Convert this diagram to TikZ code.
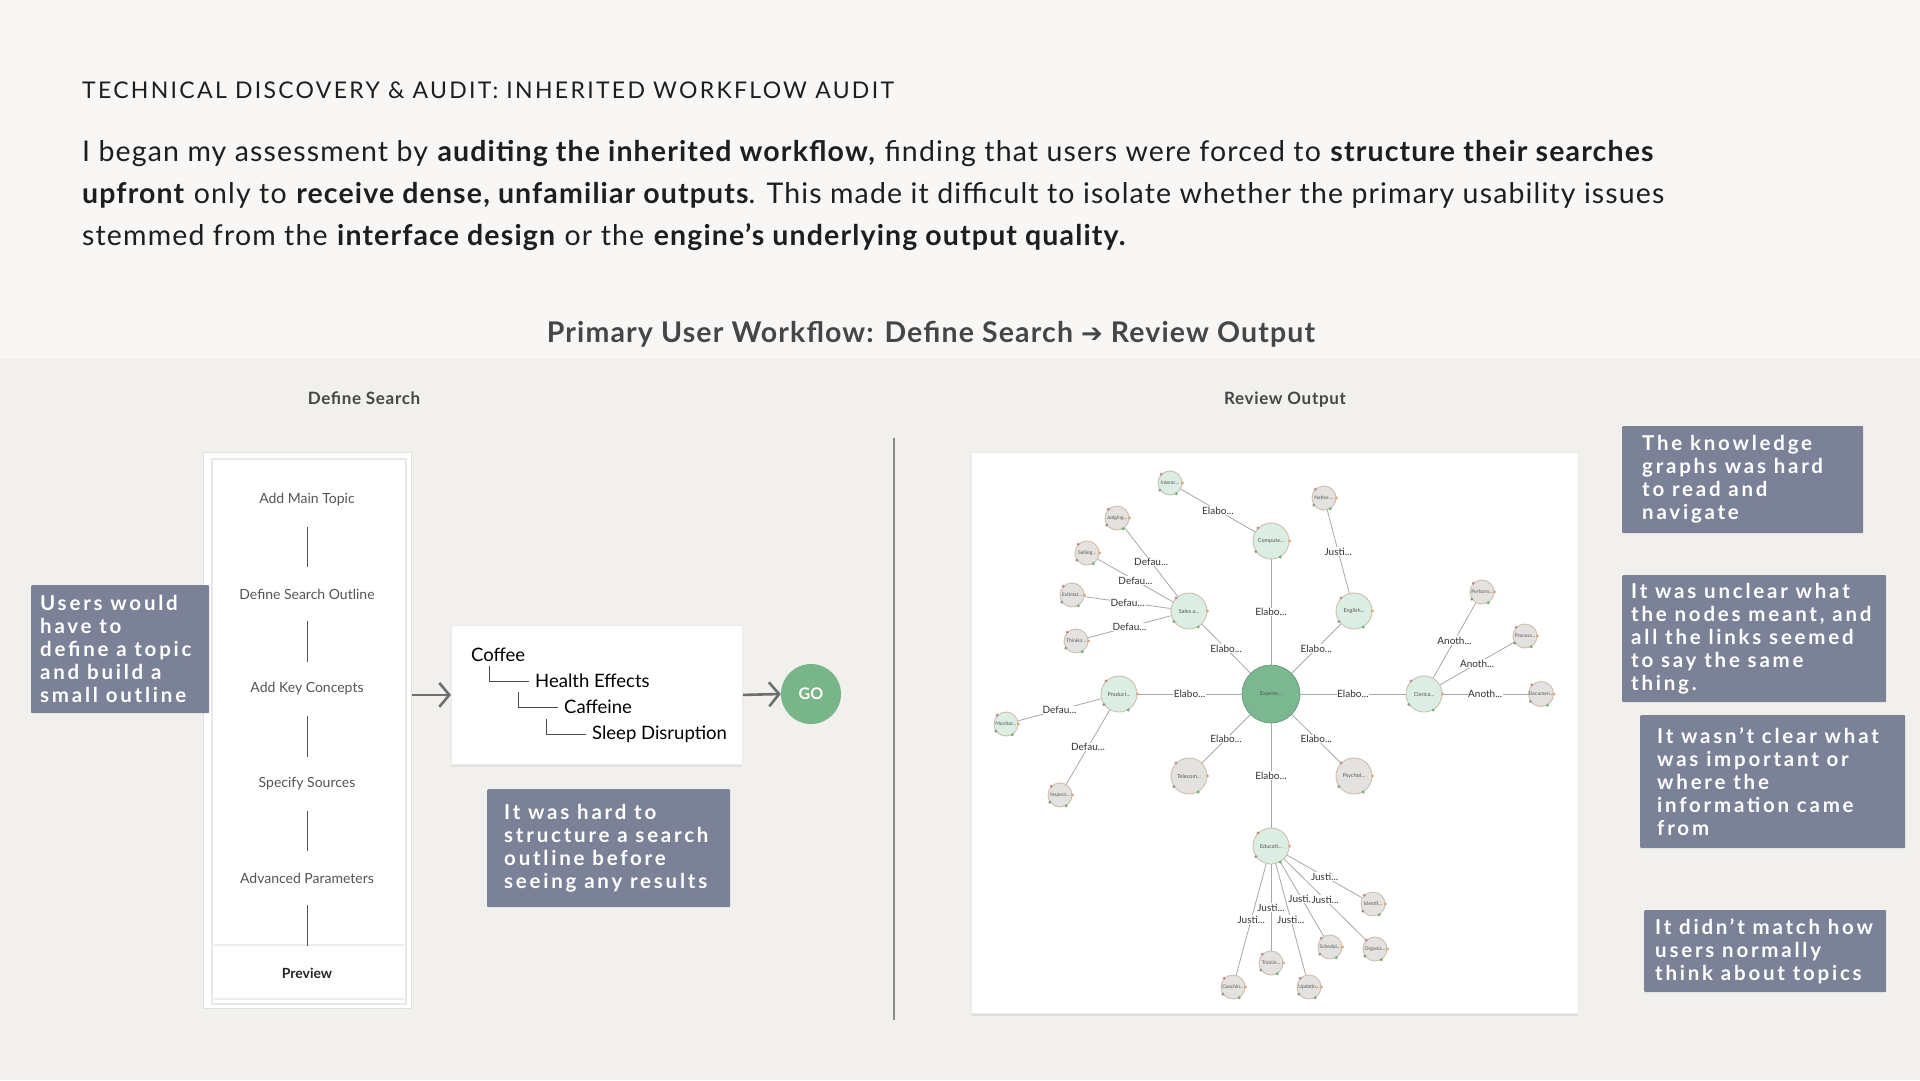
\documentclass[tikz,border=0pt]{standalone}
\usepackage{fontspec}
\setmainfont{Lato}
\newfontfamily\dejavu{DejaVu Sans}
\newfontfamily\callfont[LetterSpace=13.5]{Lato}
\newfontfamily\titlefont[LetterSpace=10.0]{Lato}
\newfontfamily\parafont[LetterSpace=4.0]{Lato}
\usetikzlibrary{arrows.meta,shadows,calc}
\definecolor{bgtop}{HTML}{F8F7F5}
\definecolor{bgbot}{HTML}{F1F0ED}
\definecolor{callout}{HTML}{7B8196}
\definecolor{gogreen}{HTML}{78B68A}
\definecolor{ctrgreen}{HTML}{7BB791}
\definecolor{lgreen}{HTML}{DCEDE3}
\definecolor{lgray}{HTML}{E4E2E0}
\definecolor{nodeborder}{HTML}{CDBFAE}
\definecolor{edgegray}{HTML}{A8A8A8}
\definecolor{textdark}{HTML}{1E1E1E}
\definecolor{subgray}{HTML}{464646}
\definecolor{stepgray}{HTML}{555555}
\definecolor{arrowgray}{HTML}{6E6E6E}
\definecolor{dotA}{HTML}{C98C8C}
\definecolor{dotB}{HTML}{E3A774}
\definecolor{dotC}{HTML}{8E9C8E}
\definecolor{dotD}{HTML}{72B07C}
\newcommand\labE{Elabo...}
\newcommand\labD{Defau...}
\newcommand\labJ{Justi...}
\newcommand\labA{Anoth...}
\begin{document}
\begin{tikzpicture}[x=1pt,y=-1pt,
  para/.style={anchor=base west, inner sep=0, font=\parafont\fontsize{28.5pt}{33pt}\selectfont, text=textdark},
  seclabel/.style={anchor=base, inner sep=0, font=\parafont\bfseries\fontsize{17pt}{19pt}\selectfont, text=subgray},
  steptext/.style={inner sep=0, font=\fontsize{14pt}{16pt}\selectfont, text=stepgray},
  stepline/.style={draw=stepgray, line width=1pt, shorten <=27pt, shorten >=27pt},
  cbox/.style={anchor=north west, fill=callout, draw=none, rounded corners=1pt, inner sep=0},
  ctext/.style={anchor=west, inner sep=0, align=left, text=white, font=\callfont\bfseries\fontsize{20.5pt}{23pt}\selectfont},
  treetext/.style={anchor=west, inner sep=0, font=\fontsize{18.5pt}{20pt}\selectfont, text=black},
  treeline/.style={draw=black!70, line width=1pt},
  flowarrow/.style={draw=arrowgray, line width=2.6pt, -{Straight Barb[length=10pt,width=24pt,line width=2.6pt]}},
  gbig/.style={circle, draw=nodeborder, line width=0.9pt, minimum size=36pt, inner sep=0, font=\fontsize{5.5pt}{6pt}\selectfont, text=stepgray},
  gsmall/.style={circle, draw=nodeborder, line width=0.9pt, minimum size=24pt, inner sep=0, font=\fontsize{5pt}{6pt}\selectfont, text=stepgray},
  gf/.style={fill=lgreen},
  yf/.style={fill=lgray},
  gedge/.style={draw=edgegray, line width=0.8pt},
  elabel/.style={fill=white, inner sep=0.6pt, font=\fontsize{10pt}{11pt}\selectfont, text=black!80}
]
\useasboundingbox (0,0) rectangle (1920,1080);
\fill[bgtop] (0,0) rectangle (1920,359);
\fill[bgbot] (0,359) rectangle (1920,1080);

% header
\node[anchor=base west, inner sep=0, font=\titlefont\fontsize{23pt}{25pt}\selectfont, text=textdark] (title) at (82,98) {TECHNICAL DISCOVERY \& AUDIT: INHERITED WORKFLOW AUDIT};
\node[para] (p1) at (82,161) {I began my assessment by \textbf{auditing the inherited workflow,} finding that users were forced to \textbf{structure their searches}};
\node[para] (p2) at (82,203) {\textbf{upfront} only to \textbf{receive dense, unfamiliar outputs}. This made it difficult to isolate whether the primary usability issues};
\node[para] (p3) at (82,245) {stemmed from the \textbf{interface design} or the \textbf{engine’s underlying output quality.}};
\node[anchor=base, inner sep=0, font=\parafont\bfseries\fontsize{28.5pt}{32pt}\selectfont, text=subgray] (sub) at (931,342) {Primary User Workflow: Define Search {\dejavu\fontsize{26pt}{26pt}\selectfont ➔} Review Output};

\node[seclabel] (dslabel) at (364,404) {Define Search};
\node[seclabel] (rolabel) at (1285,404) {Review Output};

% divider
\coordinate (dtop) at (894,438);
\coordinate (dbot) at (894,1020);
\draw[draw=arrowgray!80, line width=1.3pt] (dtop) -- (dbot);

% left panel
\node[anchor=north west, fill=white, draw=black!12, line width=1pt, minimum width=208pt, minimum height=556pt, inner sep=0] (panel) at (203,452) {};
\node[anchor=north west, fill=white, draw=black!9, line width=1.5pt, minimum width=194pt, minimum height=545pt, inner sep=0] (inner) at (211,458) {};
\coordinate (pvl) at (212,945);
\coordinate (pvr) at (404,945);
\draw[draw=black!7, line width=2.5pt] (pvl) -- (pvr);
\coordinate (pbl) at (212,999);
\coordinate (pbr) at (404,999);
\draw[draw=black!7, line width=2pt] (pbl) -- (pbr);
\node[steptext] (s1) at (307,500) {Add Main Topic};
\node[steptext] (s2) at (307,594) {Define Search Outline};
\node[steptext] (s3) at (307,689) {Add Key Concepts};
\node[steptext] (s4) at (307,784) {Specify Sources};
\node[steptext] (s5) at (307,878) {Advanced Parameters};
\node[steptext, font=\bfseries\fontsize{14pt}{16pt}\selectfont, text=black!85] (s6) at (307,973) {Preview};
\draw[stepline] (s1.center) -- (s2.center);
\draw[stepline] (s2.center) -- (s3.center);
\draw[stepline] (s3.center) -- (s4.center);
\draw[stepline] (s4.center) -- (s5.center);
\draw[stepline] (s5.center) -- (s6.center);

% callout left
\node[cbox, minimum width=178pt, minimum height=128pt] (c1) at (31,585) {};
\node[ctext] (c1t) at ([xshift=9pt]c1.west) {Users would\\have to\\define a topic\\and build a\\small outline};

% outline box
\node[anchor=north west, fill=white, draw=black!8, line width=0.8pt, minimum width=291pt, minimum height=139pt, inner sep=0, drop shadow={opacity=0.12, shadow xshift=0pt, shadow yshift=-3pt}] (ob) at (451,625) {};
\node[treetext] (t0) at (471,655) {Coffee};
\node[treetext] (t1) at (535,681) {Health Effects};
\node[treetext] (t2) at (564,707) {Caffeine};
\node[treetext] (t3) at (592,734) {Sleep Disruption};
\coordinate (v1) at (489,666);
\coordinate (v2) at (518,692);
\coordinate (v3) at (546,719);
\draw[treeline] (v1) |- ([xshift=-6pt]t1.west);
\draw[treeline] (v2) |- ([xshift=-6pt]t2.west);
\draw[treeline] (v3) |- ([xshift=-6pt]t3.west);

\node[circle, fill=gogreen, minimum size=60pt, inner sep=0, text=white, font=\bfseries\fontsize{16pt}{18pt}\selectfont] (go) at (811,694) {GO};
\draw[flowarrow] (panel.east |- ob.west) -- (ob.west);
\draw[flowarrow] (ob.east) -- (go.west);

\node[cbox, minimum width=243pt, minimum height=118pt] (c2) at (487,789) {};
\node[ctext] (c2t) at ([xshift=17pt]c2.west) {It was hard to\\structure a search\\outline before\\seeing any results};

% graph panel
\node[anchor=north west, fill=white, draw=black!8, line width=0.8pt, minimum width=607pt, minimum height=561pt, inner sep=0, drop shadow={opacity=0.14, shadow xshift=0pt, shadow yshift=-3pt}] (gp) at (971,452) {};

\node[circle, fill=ctrgreen, draw=ctrgreen!80!black, line width=0.6pt, minimum size=58pt, inner sep=0, font=\fontsize{5.5pt}{6pt}\selectfont, text=stepgray] (exp) at (1271,694) {Experie...};
\node[gbig, gf] (comp) at (1271,541) {Compute...};
\node[gsmall, gf] (intr) at (1170,483) {Interac...};
\node[gsmall, yf] (nat) at (1324,498) {Native ...};
\node[gbig, gf] (eng) at (1354,611) {English...};
\node[gbig, gf] (sal) at (1189,611) {Sales a...};
\node[gsmall, yf] (jud) at (1117,518) {Judging...};
\node[gsmall, yf] (sel) at (1087,553) {Selling...};
\node[gsmall, yf] (est) at (1072,595) {Estimat...};
\node[gsmall, yf] (thi) at (1076,641) {Thinkin...};
\node[gbig, gf] (pro) at (1119,694) {Product...};
\node[gsmall, gf] (mon) at (1006,724) {Monitor...};
\node[gsmall, yf] (ins) at (1060,795) {Inspect...};
\node[gbig, yf] (tel) at (1189,776) {Telecom...};
\node[gbig, yf] (psy) at (1354,776) {Psychol...};
\node[gbig, gf] (cle) at (1424,694) {Clerica...};
\node[gsmall, yf] (per) at (1482,592) {Perform...};
\node[gsmall, yf] (prc) at (1525,636) {Process...};
\node[gsmall, yf] (doc) at (1541,694) {Documen...};
\node[gbig, gf] (edu) at (1271,846) {Educati...};
\node[gsmall, yf] (ide) at (1373,904) {Identif...};
\node[gsmall, yf] (org) at (1375,949) {Organiz...};
\node[gsmall, yf] (sch) at (1330,947) {Schedul...};
\node[gsmall, yf] (upd) at (1309,987) {Updatin...};
\node[gsmall, yf] (tra) at (1271,963) {Trainin...};
\node[gsmall, yf] (coa) at (1233,987) {Coachin...};

\foreach \a/\b/\t in {exp/comp/E, exp/sal/E, exp/eng/E, exp/pro/E, exp/cle/E, exp/tel/E, exp/psy/E, exp/edu/E, comp/intr/E, eng/nat/J, sal/jud/D, sal/sel/D, sal/est/D, sal/thi/D, pro/mon/D, pro/ins/D, cle/per/A, cle/prc/A, cle/doc/A, edu/ide/J, edu/sch/J, edu/org/J, edu/tra/J, edu/coa/J, edu/upd/J}
  \draw[gedge] (\a) -- node[elabel] {\csname lab\t\endcsname} (\b);

\foreach \n in {comp,intr,nat,eng,sal,jud,sel,est,thi,pro,mon,ins,tel,psy,cle,per,prc,doc,edu,ide,org,sch,upd,tra,coa} {
  \fill[dotA] (\n.135) circle (1.6);
  \fill[dotB] (\n.0) circle (1.6);
  \fill[dotC] (\n.215) circle (1.6);
  \fill[dotD] (\n.300) circle (1.6);
}

% right callouts
\node[cbox, minimum width=241pt, minimum height=107pt] (r1) at (1622,426) {};
\node[ctext] (r1t) at ([xshift=20pt]r1.west) {The knowledge\\graphs was hard\\to read and\\navigate};
\node[cbox, minimum width=264pt, minimum height=127pt] (r2) at (1622,575) {};
\node[ctext] (r2t) at ([xshift=9pt]r2.west) {It was unclear what\\the nodes meant, and\\all the links seemed\\to say the same\\thing.};
\node[cbox, minimum width=265pt, minimum height=133pt] (r3) at (1640,715) {};
\node[ctext] (r3t) at ([xshift=17pt]r3.west) {It wasn’t clear what\\was important or\\where the\\information came\\from};
\node[cbox, minimum width=242pt, minimum height=82pt] (r4) at (1644,910) {};
\node[ctext] (r4t) at ([xshift=11pt]r4.west) {It didn’t match how\\users normally\\think about topics};
\end{tikzpicture}
\end{document}
